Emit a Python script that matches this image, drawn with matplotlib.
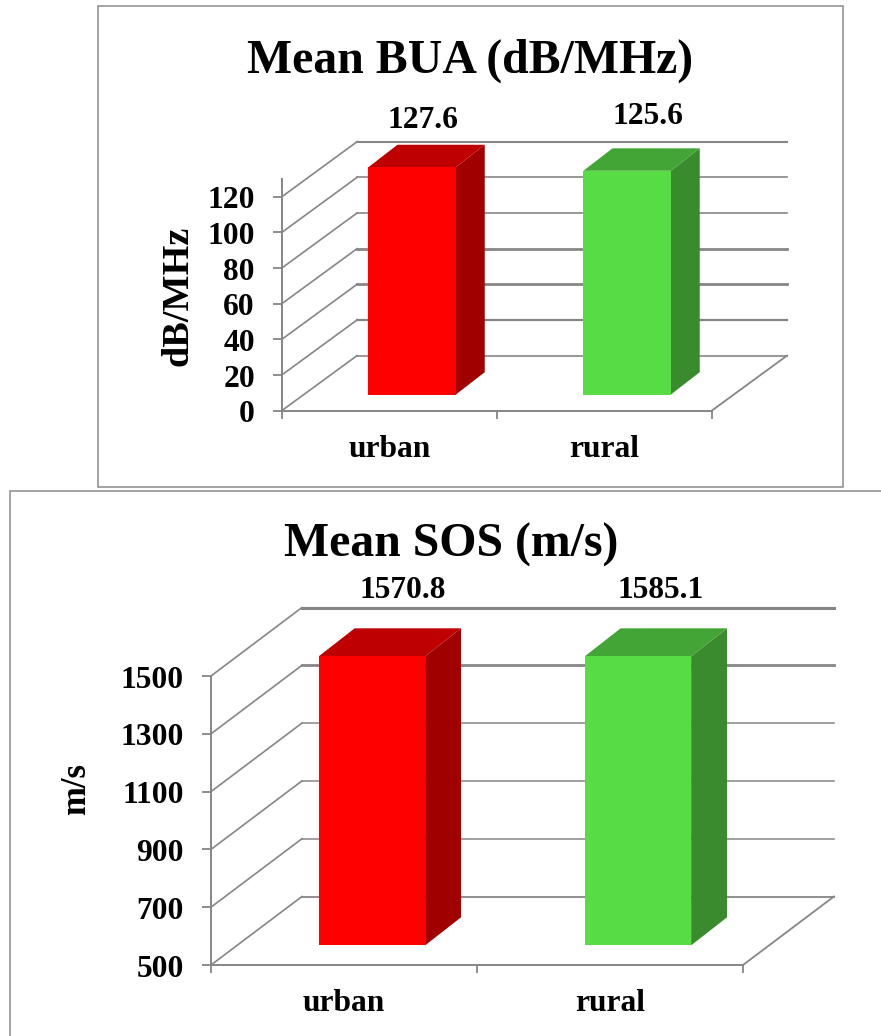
import matplotlib
matplotlib.use("Agg")
import matplotlib.pyplot as plt
from matplotlib.patches import Polygon, Rectangle
from matplotlib.transforms import ScaledTranslation

W, H = 881, 1036
GRID = "#868686"
FRONT = ["#ff0000", "#58dc46"]
TOP = ["#bf0000", "#43a535"]
SIDE = ["#a00000", "#3a8b2e"]

categories = ["urban", "rural"]
bua_values = [127.6, 125.6]
sos_values = [1570.8, 1585.1]
bua_ticks = [0, 20, 40, 60, 80, 100, 120]
sos_ticks = [500, 700, 900, 1100, 1300, 1500]

plt.rcParams["font.family"] = ["Liberation Serif", "DejaVu Serif"]
plt.rcParams["font.weight"] = "bold"

fig = plt.figure(figsize=(W / 100, H / 100), dpi=100)


def px_text(x, y, s, size, rotation=0):
    fig.text(x / W, 1 - y / H, s, fontsize=size, ha="center", va="center",
             rotation=rotation, fontweight="bold", color="black")


def frame(x0, y0, x1, y1):
    fig.add_artist(Rectangle((x0 / W, 1 - y1 / H), (x1 - x0) / W, (y1 - y0) / H,
                             transform=fig.transFigure, fill=False,
                             edgecolor="#8a8a8a", linewidth=1.1))


def chart(box, ticks, values, ytop, clip, depth, bar_depth, lift, label_off, widths, bar_w):
    x0, y_top, x1, y_bot = box
    ax = fig.add_axes([x0 / W, 1 - y_bot / H, (x1 - x0) / W, (y_bot - y_top) / H])
    ax.patch.set_alpha(0)
    ax.set_xlim(0, 2)
    ax.set_ylim(ticks[0], ytop)
    dx, dy = depth
    bx, by = bar_depth

    # back wall and floor lines, the printed ones are not all equally heavy
    for t, lw in zip(ticks, widths):
        ax.plot([0, dx], [t, t + dy], color=GRID, lw=1.2, clip_on=False, zorder=1)
        ax.plot([dx, 2 + dx], [t + dy, t + dy], color=GRID, lw=lw,
                clip_on=False, zorder=1)
    ax.plot([2, 2 + dx], [ticks[0], ticks[0] + dy], color=GRID, lw=1.3,
            clip_on=False, zorder=1)

    for i, v in enumerate(values):
        left = i + 0.605 - bar_w / 2
        right = i + 0.605 + bar_w / 2
        bottom = ticks[0] + lift
        top = bottom + min(v, clip) - ticks[0]
        ax.add_patch(Polygon([(right, bottom), (right + bx, bottom + by),
                              (right + bx, top + by), (right, top)],
                             color=SIDE[i], lw=0, clip_on=False, zorder=3))
        ax.add_patch(Polygon([(left, top), (right, top),
                              (right + bx, top + by), (left + bx, top + by)],
                             color=TOP[i], lw=0, clip_on=False, zorder=3))
        ax.add_patch(Rectangle((left, bottom), right - left, top - bottom,
                               color=FRONT[i], lw=0, clip_on=False, zorder=4))
        ax.annotate(f"{v:.1f}", xy=(i + 0.6, top), xytext=label_off[i],
                    textcoords="offset pixels", ha="center", va="center",
                    fontsize=22.7, fontweight="bold", annotation_clip=False)

    for side in ["top", "right"]:
        ax.spines[side].set_visible(False)
    for side in ["left", "bottom"]:
        ax.spines[side].set_color(GRID)
        ax.spines[side].set_linewidth(1.4)
    ax.set_yticks(ticks)
    ax.set_xticks([0, 1, 2])
    ax.set_xticklabels([])
    ax.set_xticks([0.5, 1.5], labels=categories, minor=True)
    ax.tick_params(axis="y", length=6.5, width=1.3, color=GRID, pad=13, labelsize=22.7)
    ax.tick_params(axis="x", which="major", length=6, width=1.3, color=GRID)
    ax.tick_params(axis="x", which="minor", length=0, pad=17.5, labelsize=22.7)
    nudge = ScaledTranslation(0, -0.5 / 72, fig.dpi_scale_trans)
    for lab in ax.get_yticklabels():
        lab.set_transform(lab.get_transform() + nudge)
    return ax


frame(98, 6, 843, 487)
frame(9.5, 491, 900, 1060)

chart((282, 178.8, 712, 410.5), bua_ticks, bua_values, 130, 130,
      (0.349, 30.8), (0.135, 12.6), 8.9, [(12, 47), (22, 54)],
      [1.2, 1.6, 2.0, 2.0, 1.2, 1.2, 1.5], 0.406)
chart((211, 676, 743, 965), sos_ticks, sos_values, 1500, 1500,
      (0.342, 237), (0.135, 97), 68, [(32, 66), (24, 66)],
      [1.3, 1.1, 1.1, 1.1, 2.0, 2.2], 0.4)

px_text(470, 61, "Mean BUA (dB/MHz)", 34.4)
px_text(451, 545, "Mean SOS (m/s)", 34.4)
px_text(178, 296, "dB/MHz", 27.5, rotation=90)
px_text(77, 789, "m/s", 25, rotation=90)

fig.savefig("out.png", dpi=100)
